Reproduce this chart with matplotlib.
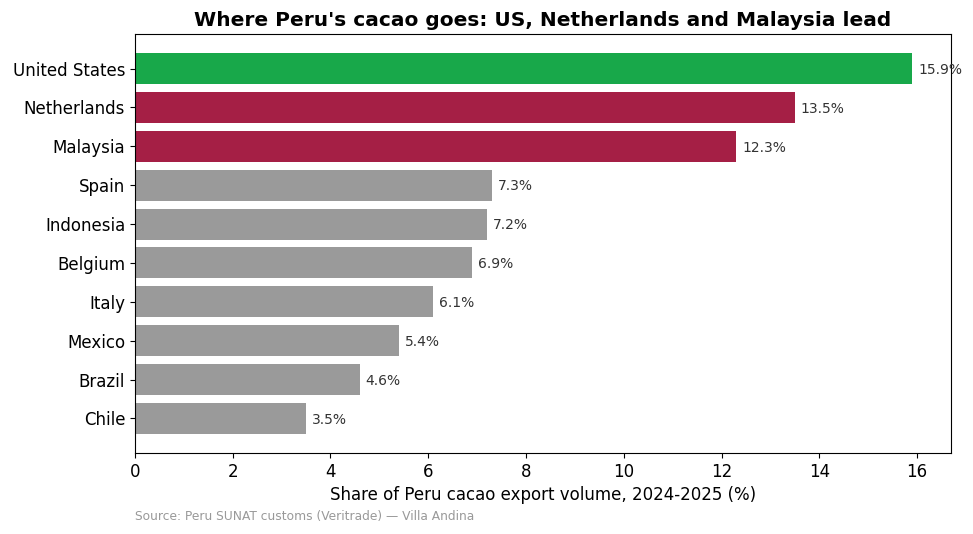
import matplotlib
matplotlib.use("Agg")
import matplotlib.pyplot as plt

countries = ["United States", "Netherlands", "Malaysia", "Spain", "Indonesia",
             "Belgium", "Italy", "Mexico", "Brazil", "Chile"]
shares = [15.9, 13.5, 12.3, 7.3, 7.2, 6.9, 6.1, 5.4, 4.6, 3.5]
colors = ["#18a84a", "#a51f45", "#a51f45"] + ["#9a9a9a"] * 7

fig = plt.figure(figsize=(9.73, 5.34), dpi=100)
ax = fig.add_axes([0.1387, 0.1517, 0.8387, 0.7846])

# reverse so the largest sits on top
ypos = list(range(len(countries)))[::-1]
bars = ax.barh(ypos, shares, color=colors, height=0.8)
ax.set_yticks(ypos)
ax.set_yticklabels(countries)
ax.tick_params(axis="both", labelsize=12)

for bar, v in zip(bars, shares):
    ax.text(bar.get_width() + 0.12, bar.get_y() + bar.get_height() / 2 - 0.03,
            f"{v:.1f}%", va="center", ha="left", fontsize=10, color="#333333")

ax.set_xlim(0, max(shares) * 1.05)
ax.set_xlabel("Share of Peru cacao export volume, 2024-2025 (%)", fontsize=12)
ax.set_title("Where Peru's cacao goes: US, Netherlands and Malaysia lead",
             fontsize=14.5, fontweight="bold")
fig.text(0.1387, 0.032, "Source: Peru SUNAT customs (Veritrade) \u2014 Villa Andina",
         fontsize=8.8, color="#999999", ha="left", va="center")

fig.savefig("out.png", dpi=100)
